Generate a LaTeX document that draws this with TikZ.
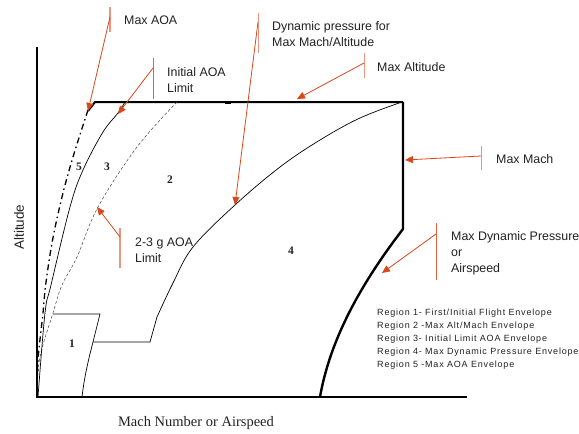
\documentclass[tikz,border=0pt]{standalone}
\usepackage{fontspec}
\setmainfont{Liberation Sans}
\newfontfamily\serifface{Liberation Serif}
\newfontfamily\legendface[LetterSpace=9]{Liberation Sans}
\usetikzlibrary{arrows.meta}

\definecolor{leadred}{HTML}{D9481A}
\definecolor{barred}{HTML}{E2623C}
\definecolor{barsalmon}{HTML}{EA9580}
\definecolor{inkgray}{HTML}{222222}

\begin{document}
\begin{tikzpicture}[x=1pt,y=-1pt,
  axis/.style={line width=2.4pt},
  boundary/.style={line width=2pt},
  thincurve/.style={line width=0.7pt},
  aoadash/.style={line width=0.5pt, draw=black!75, dash pattern=on 3pt off 2pt},
  aoadashdot/.style={line width=1.3pt, dash pattern=on 6pt off 3.5pt on 1.5pt off 3.5pt},
  leader/.style={draw=leadred, line width=0.8pt, -{Triangle[length=8pt,width=7pt]}},
  calloutbar/.style={draw=barred, line width=0.8pt},
  softbar/.style={draw=barsalmon, line width=1.6pt},
  callout/.style={font=\fontsize{12.4}{16}\selectfont, align=left, inner sep=0pt, anchor=west, text=inkgray},
  legendline/.style={font=\legendface\fontsize{9}{13}\selectfont, inner sep=0pt, anchor=base west, text=inkgray},
  regionnum/.style={font=\serifface\bfseries\fontsize{11.5}{13}\selectfont, inner sep=0pt, text=inkgray}
]
\useasboundingbox (0,0) rectangle (579,434);
\fill[white] (0,0) rectangle (579,434);

% axes
\draw[axis] (37,47) -- (37,397) -- (467,397);
\node[font=\fontsize{13.5}{16}\selectfont, rotate=90, text=inkgray] (ylab) at (19,227) {Altitude};
\node[font=\serifface\fontsize{14.5}{17}\selectfont, text=inkgray] (xlab) at (196,423) {Mach Number or Airspeed};

% max altitude, max Mach and max dynamic pressure limits
\draw[boundary] (88,111) -- (95,102) -- (403,102);
\fill (225,100.5) rectangle (231,103.5);
\draw[boundary, line width=2.4pt] (403,102) -- (403,229)
  .. controls (360,285) and (330,340) .. (320,397);

% dynamic pressure for max Mach/altitude and region 1 step
\draw[thincurve] plot[smooth, tension=0.6] coordinates
  {(402,102) (360,118) (320,140) (280,167) (235,205) (193,247) (173,283) (157,317)}
  -- (150,342) -- (93,342);
\draw[thincurve] (53,314) -- (100,314) -- (93,342)
  .. controls (87,365) and (84,380) .. (82,397);

% AOA limit curves
\draw[aoadash] plot[smooth, tension=0.6] coordinates
  {(177,102) (137,147) (98,207) (77,257) (62,285) (53,313) (40,357) (37,397)};
\draw[thincurve] plot[smooth, tension=0.6] coordinates
  {(125,102) (118,113) (103,132) (83,170) (70,207) (51,285) (45,313) (38,397)};
\draw[aoadashdot] plot[smooth, tension=0.6] coordinates
  {(88,110) (73,157) (62,197) (52,243) (45,290) (43,313) (38,360) (37,397)};

% region numbers
\node[regionnum] (r5) at (79,167) {5};
\node[regionnum] (r3) at (107,167) {3};
\node[regionnum] (r2) at (170,180) {2};
\node[regionnum] (r4) at (291,251) {4};
\node[regionnum] (r1) at (72,344) {1};

% callouts: bar, leader and label
\coordinate (aoaA) at (110,17);  \coordinate (aoaT) at (88,111);
\draw[softbar] (110,7) -- (110,32);
\draw[leader] (aoaA) -- (aoaT);
\node[callout] (maxaoa) at (124,20) {Max AOA};

\coordinate (iniA) at (153,68);  \coordinate (iniT) at (118,114);
\draw[calloutbar] (153,58) -- (153,99);
\draw[leader] (iniA) -- (iniT);
\node[callout] (initaoa) at (167,80) {Initial AOA\\Limit};

\coordinate (dynA) at (258,22);  \coordinate (dynT) at (235,205);
\draw[calloutbar, draw=barsalmon] (258,13) -- (258,53);
\draw[leader] (dynA) -- (dynT);
\node[callout] (dynq) at (272,34) {Dynamic pressure for\\Max Mach/Altitude};

\coordinate (altA) at (364,63);  \coordinate (altT) at (297,99);
\draw[calloutbar, draw=barsalmon] (364,53) -- (364,78);
\draw[leader] (altA) -- (altT);
\node[callout] (maxalt) at (377,67) {Max Altitude};

\coordinate (machA) at (481,156);  \coordinate (machT) at (405,160);
\draw[calloutbar, draw=barsalmon] (481,146) -- (481,170);
\draw[leader] (machA) -- (machT);
\node[callout] (maxmach) at (496,159) {Max Mach};

\coordinate (qA) at (436,234);  \coordinate (qT) at (382,273);
\draw[calloutbar] (436,223) -- (436,280);
\draw[leader] (qA) -- (qT);
\node[callout] (maxq) at (451,253) {Max Dynamic Pressure\\or\\Airspeed};

\coordinate (gA) at (120,237);  \coordinate (gT) at (97,207);
\draw[softbar] (120,228) -- (120,268);
\draw[leader] (gA) -- (gT);
\node[callout] (gaoa) at (135,250) {2-3 g AOA\\Limit};

% legend
\node[legendline] (leg1) at (377,315) {Region 1- First/Initial Flight Envelope};
\node[legendline] (leg2) at (377,328) {Region 2 -Max Alt/Mach Envelope};
\node[legendline] (leg3) at (377,341) {Region 3- Initial Limit AOA Envelope};
\node[legendline] (leg4) at (377,354) {Region 4- Max Dynamic Pressure Envelope};
\node[legendline] (leg5) at (377,367) {Region 5 -Max AOA Envelope};
\end{tikzpicture}
\end{document}
